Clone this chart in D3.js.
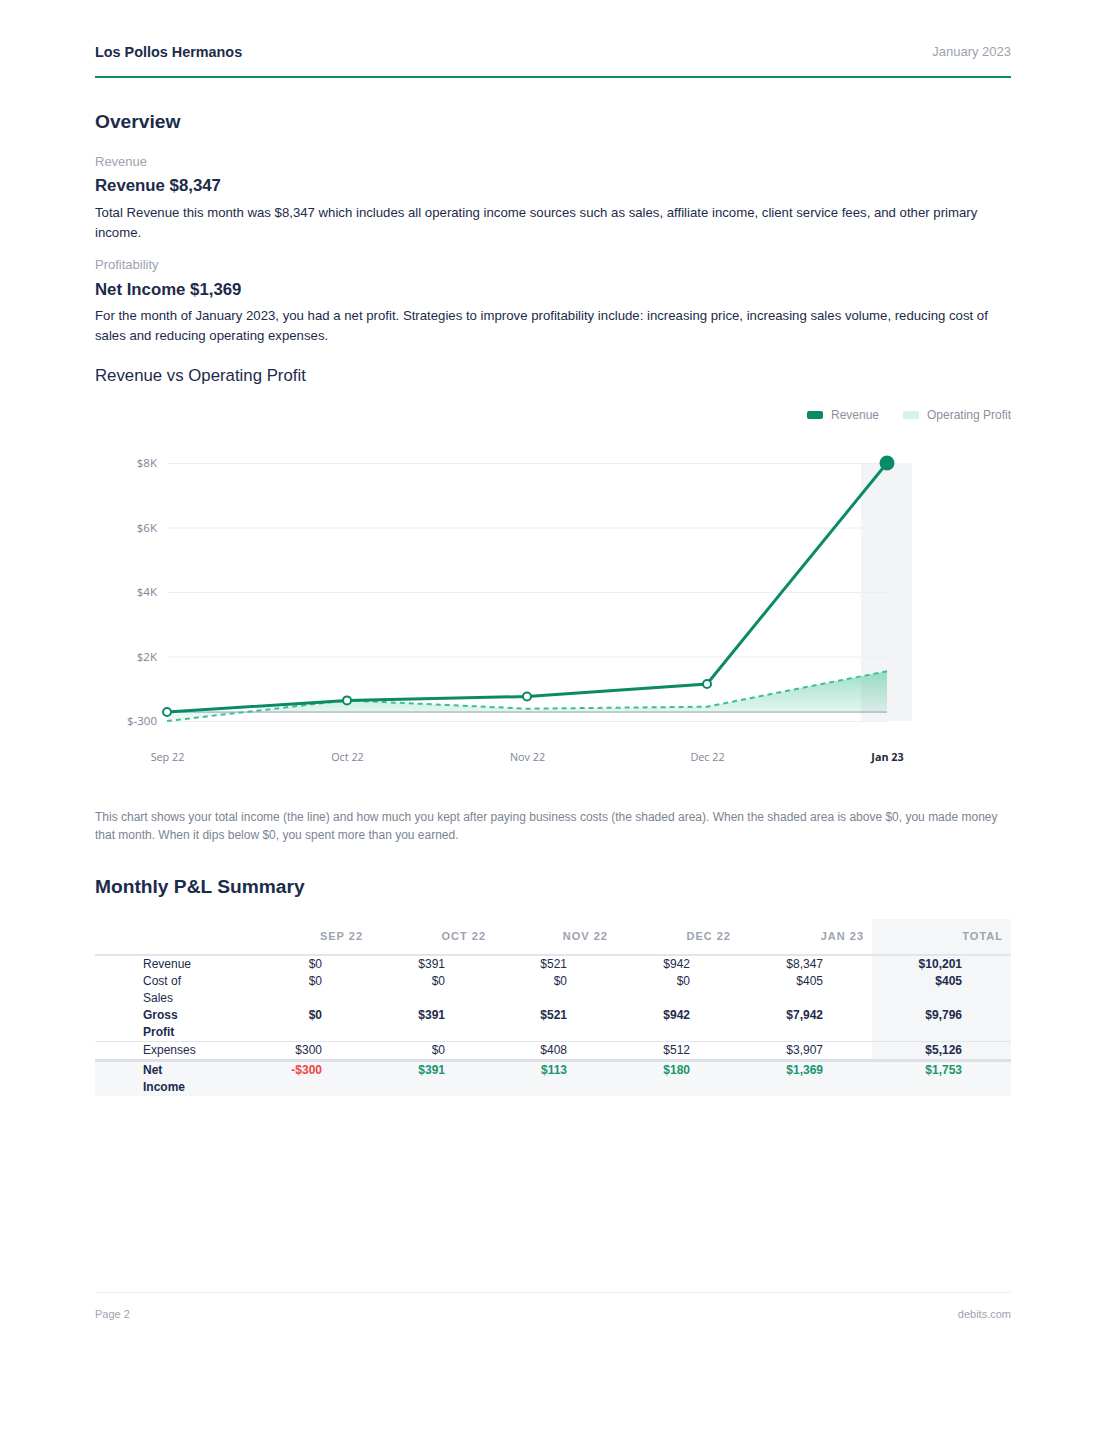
<!DOCTYPE html>
<html>
<head>
<meta charset="utf-8">
<script src="https://cdn.jsdelivr.net/npm/d3@7"></script>
<style>
  body { margin: 0; background: #fff; font-family: "Liberation Sans", Arial, sans-serif; color: #1c2b4b; }
  #page { position: relative; width: 1105px; height: 1430px; }
  .abs { position: absolute; left: 95px; width: 916px; }
  .muted { color: #9ca3af; font-size: 13px; line-height: 18px; }
  .h2 { font-size: 19.2px; line-height: 24px; font-weight: bold; }
  .h3 { font-size: 16.8px; line-height: 20px; font-weight: bold; }
  .para { font-size: 13.2px; line-height: 20px; }
  #chart { position: absolute; left: 95px; top: 395px; }
  table { border-collapse: collapse; table-layout: fixed; width: 916px; font-size: 12px; line-height: 17px; }
  th { height: 35px; padding: 0 8px 0 0; text-align: right; font-size: 11px; letter-spacing: 1px; color: #9ca3af; border-bottom: 2px solid #e3e5ea; }
  td { padding: 0 49px 0 0; text-align: right; vertical-align: top; color: #1c2b4b; }
  td.lab { text-align: left; padding: 0 0 0 48px; }
  td.lab span { display: block; width: 60px; }
  .tot { background: #f5f6f8; }
  tr.bold td { font-weight: bold; }
  tr.gross td { border-bottom: 1px solid #e3e5ea; }
  tr.exp td { border-bottom: 3px solid #dcdfe5; }
  tr.net td { background: #f6f7f9; padding-bottom: 0; }
</style>
</head>
<body>
<div id="page">
  <div class="abs" style="top:42px;font-size:14.4px;line-height:20px;font-weight:bold;">Los Pollos Hermanos</div>
  <div class="abs muted" style="top:43px;text-align:right;">January 2023</div>
  <div class="abs" style="top:76px;height:2px;background:#0f8a6b;"></div>

  <div class="abs h2" style="top:110px;">Overview</div>
  <div class="abs muted" style="top:153px;">Revenue</div>
  <div class="abs h3" style="top:176px;">Revenue $8,347</div>
  <div class="abs para" style="top:203px;">Total Revenue this month was $8,347 which includes all operating income sources such as sales, affiliate income, client service fees, and other primary income.</div>
  <div class="abs muted" style="top:256px;">Profitability</div>
  <div class="abs h3" style="top:280px;">Net Income $1,369</div>
  <div class="abs para" style="top:306px;">For the month of January 2023, you had a net profit. Strategies to improve profitability include: increasing price, increasing sales volume, reducing cost of sales and reducing operating expenses.</div>

  <div class="abs" style="top:365px;font-size:16.8px;line-height:22px;">Revenue vs Operating Profit</div>
  <svg id="chart" width="916" height="380"></svg>

  <div class="abs" style="top:808px;font-size:12px;line-height:18px;color:#7b8494;">This chart shows your total income (the line) and how much you kept after paying business costs (the shaded area). When the shaded area is above $0, you made money that month. When it dips below $0, you spent more than you earned.</div>

  <div class="abs h2" style="top:875px;">Monthly P&amp;L Summary</div>
  <div class="abs" style="top:919px;" id="tbl"></div>

  <div class="abs" style="top:1292px;height:1px;background:#eceef1;"></div>
  <div class="abs" style="top:1306px;font-size:11px;line-height:16px;color:#9ca3af;">Page 2</div>
  <div class="abs" style="top:1306px;font-size:11px;line-height:16px;color:#9ca3af;text-align:right;">debits.com</div>
</div>

<script>
// chart data
const months = ["Sep 22", "Oct 22", "Nov 22", "Dec 22", "Jan 23"];
const revenue = [0, 391, 521, 942, 8347];
const operatingProfit = [-300, 391, 113, 180, 1369];
const yTickLabels = ["$-300", "$2K", "$4K", "$6K", "$8K"];

// table data
const tableHeaders = ["SEP 22", "OCT 22", "NOV 22", "DEC 22", "JAN 23", "TOTAL"];
const rowLabels = ["Revenue", "Cost of Sales", "Gross Profit", "Expenses", "Net Income"];
const costOfSales = [0, 0, 0, 0, 405];
const grossProfit = [0, 391, 521, 942, 7942];
const expenses = [300, 0, 408, 512, 3907];
const netIncome = [-300, 391, 113, 180, 1369];
const totals = [10201, 405, 9796, 5126, 1753];

const green = "#0b8a67";
const lightGreen = "#3cc08f";

const svg = d3.select("#chart");
const x = d3.scalePoint().domain(months).range([72, 792]);
const yMin = d3.min(operatingProfit), yMax = d3.max(revenue);
const y = d3.scaleLinear().domain([yMin, yMax]).range([326, 68]);
const yTicks = d3.range(yTickLabels.length).map(i => yMin + i * (yMax - yMin) / (yTickLabels.length - 1));

// legend
const legend = svg.append("g").attr("transform", "translate(712,20)");
[["Revenue", green, 0], ["Operating Profit", "#d6f3e8", 96]].forEach(([name, col, dx]) => {
    legend.append("rect").attr("x", dx).attr("y", -4).attr("width", 16).attr("height", 8).attr("rx", 2).attr("fill", col);
    legend.append("text").attr("x", dx + 24).attr("y", 4).text(name)
        .style("font-size", "12px").style("fill", "#8a919e");
});

// highlight band for current month
svg.append("rect")
    .attr("x", x("Jan 23") - 26).attr("width", 51)
    .attr("y", y(yMax)).attr("height", y(yMin) - y(yMax))
    .attr("fill", "#f3f4f6");

// grid + y axis
const yAxis = svg.append("g")
    .attr("transform", "translate(72,0)")
    .call(d3.axisLeft(y).tickValues(yTicks).tickSize(-720).tickPadding(10)
        .tickFormat((d, i) => yTickLabels[i]));
yAxis.select(".domain").remove();
yAxis.selectAll("line").attr("stroke", "#eceef1");
yAxis.selectAll("text").style("font-family", "'Open Sans'").style("font-size", "11.5px").style("fill", "#7c8595");

// x axis labels
const xAxis = svg.append("g")
    .attr("transform", "translate(0,354)")
    .call(d3.axisBottom(x).tickSize(0).tickPadding(4));
xAxis.select(".domain").remove();
xAxis.selectAll("text")
    .style("font-family", "'Open Sans'").style("font-size", "10.8px")
    .style("fill", d => d === "Jan 23" ? "#1f2937" : "#7c8595")
    .style("font-weight", d => d === "Jan 23" ? "bold" : "normal");

// area gradient
const defs = svg.append("defs");
const grad = defs.append("linearGradient").attr("id", "opGrad")
    .attr("x1", 0).attr("y1", 0).attr("x2", 0).attr("y2", 1);
grad.append("stop").attr("offset", "0%").attr("stop-color", lightGreen).attr("stop-opacity", 0.5);
grad.append("stop").attr("offset", "100%").attr("stop-color", lightGreen).attr("stop-opacity", 0.06);

svg.append("path")
    .datum(operatingProfit)
    .attr("fill", "url(#opGrad)")
    .attr("d", d3.area().x((d, i) => x(months[i])).y0(y(0)).y1(d => y(d)));

// zero line
svg.append("line")
    .attr("x1", 72).attr("x2", 792).attr("y1", y(0)).attr("y2", y(0))
    .attr("stroke", "#8f9bab").attr("stroke-width", 1);

svg.append("path")
    .datum(operatingProfit)
    .attr("fill", "none").attr("stroke", lightGreen).attr("stroke-width", 2)
    .attr("stroke-dasharray", "5,4")
    .attr("d", d3.line().x((d, i) => x(months[i])).y(d => y(d)));

svg.append("path")
    .datum(revenue)
    .attr("fill", "none").attr("stroke", green).attr("stroke-width", 3)
    .attr("d", d3.line().x((d, i) => x(months[i])).y(d => y(d)));

svg.selectAll(".pt")
    .data(revenue)
    .join("circle")
    .attr("cx", (d, i) => x(months[i]))
    .attr("cy", d => y(d))
    .attr("r", (d, i) => i === revenue.length - 1 ? 6.5 : 4)
    .attr("fill", (d, i) => i === revenue.length - 1 ? green : "#fff")
    .attr("stroke", green)
    .attr("stroke-width", 2);

// table
const money = v => (v < 0 ? "-$" : "$") + d3.format(",")(Math.abs(v));
const rows = [
    { label: rowLabels[0], vals: revenue, cls: "" },
    { label: rowLabels[1], vals: costOfSales, cls: "" },
    { label: rowLabels[2], vals: grossProfit, cls: "bold gross" },
    { label: rowLabels[3], vals: expenses, cls: "exp" },
    { label: rowLabels[4], vals: netIncome, cls: "bold net" }
];
rows.forEach((r, i) => r.total = totals[i]);

const table = d3.select("#tbl").append("table");
const cg = table.append("colgroup");
[154, 122, 123, 122, 123, 133, 139].forEach(w => cg.append("col").style("width", w + "px"));
const hr = table.append("thead").append("tr");
hr.append("th");
hr.selectAll("th.m").data(tableHeaders).join("th")
    .attr("class", (d, i) => i === tableHeaders.length - 1 ? "m tot" : "m")
    .text(d => d);

const tr = table.append("tbody").selectAll("tr").data(rows).join("tr")
    .attr("class", d => d.cls);
tr.append("td").attr("class", "lab").append("span").text(d => d.label);
tr.each(function(r) {
    const row = d3.select(this);
    r.vals.concat([r.total]).forEach((v, i) => {
        const td = row.append("td").text(money(v));
        if (i === r.vals.length) {
            td.classed("tot", true).style("font-weight", "bold");
        }
        if (r.cls.includes("net")) {
            td.style("color", v < 0 ? "#ef4444" : "#17966c");
        }
    });
});
</script>
</body>
</html>
